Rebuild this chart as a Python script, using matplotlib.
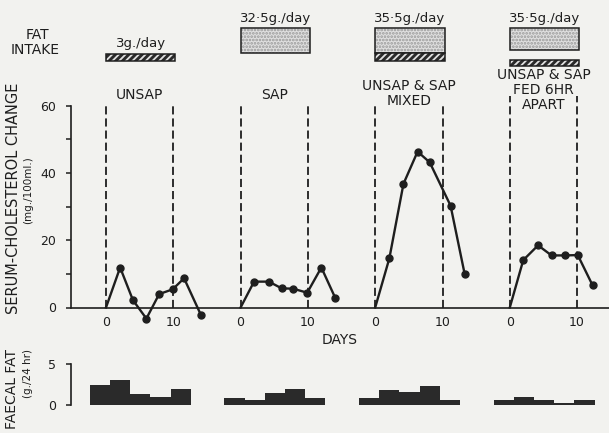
import matplotlib
matplotlib.use("Agg")
import matplotlib.pyplot as plt
from matplotlib.patches import Rectangle

plt.rcParams['font.family'] = ['DejaVu Sans']
plt.rcParams['hatch.linewidth'] = 1.3

INK = '#1e1e1e'
BG = '#f2f2ef'

# ---------------- data ----------------
group_names = ['UNSAP', 'SAP', 'UNSAP & SAP\nMIXED', 'UNSAP & SAP\nFED 6HR\nAPART']
group_offsets = [0, 20, 40, 60]          # each group plotted on its own 0-14 day window
intake_labels = ['3g./day', '32·5g./day', '35·5g./day', '35·5g./day']
intake_days = 10.3

# serum cholesterol change (mg./100ml.)
g1_days = [0, 2.1, 4.0, 6.0, 7.9, 9.9, 11.6, 14.1]
g1_chol = [0, 11.9, 2.2, -3.3, 4.0, 5.4, 8.7, -2.2]
g2_days = [0, 2.0, 4.2, 6.1, 7.8, 9.9, 12.0, 14.1]
g2_chol = [0, 7.7, 7.7, 5.7, 5.6, 4.4, 11.9, 2.7]
g3_days = [0, 2.1, 4.2, 6.3, 8.1, 11.2, 13.3]
g3_chol = [0, 14.6, 36.8, 46.4, 43.2, 30.3, 9.9]
g4_days = [0, 2.0, 4.2, 6.2, 8.2, 10.1, 12.3]
g4_chol = [0, 14.1, 18.5, 15.5, 15.5, 15.6, 6.6]

# faecal fat (g./24 hr), 3-day collection periods
fat_centers = [-0.9, 2.1, 5.1, 8.1, 11.1]
fat_width = 3
g1_fat = [2.4, 3.0, 1.3, 0.9, 1.9]
g2_fat = [0.8, 0.5, 1.4, 1.9, 0.8]
g3_fat = [0.8, 1.8, 1.5, 2.3, 0.6]
g4_fat = [0.5, 0.9, 0.5, 0.2, 0.5]

chol_days = [g1_days, g2_days, g3_days, g4_days]
chol_vals = [g1_chol, g2_chol, g3_chol, g4_chol]
fat_vals = [g1_fat, g2_fat, g3_fat, g4_fat]

# ---------------- layout helpers ----------------
W, H = 609, 433
fig = plt.figure(figsize=(W / 100, H / 100), dpi=100)
fig.patch.set_facecolor(BG)

def px_axes(x0, ytop, x1, ybot):
    return fig.add_axes([x0 / W, 1 - ybot / H, (x1 - x0) / W, (ybot - ytop) / H])

PX_DAY = 6.73
DAY0 = 106.0
XL = ((71 - DAY0) / PX_DAY, (609 - DAY0) / PX_DAY)
Y0 = 307.5
PX_MG = 3.36

def py2mg(py):
    return (Y0 - py) / PX_MG

# ---------------- main chart ----------------
ylo, yhi = -6, 65
ax = px_axes(71, Y0 - yhi * PX_MG, 609, Y0 - ylo * PX_MG)
ax.set_xlim(*XL)
ax.set_ylim(ylo, yhi)
ax.patch.set_visible(False)
for s in ['top', 'right']:
    ax.spines[s].set_visible(False)
ax.spines['bottom'].set_position(('data', 0))
ax.spines['left'].set_bounds(0, 60)
for s in ['bottom', 'left']:
    ax.spines[s].set_linewidth(1.2)
    ax.spines[s].set_color(INK)

ax.set_yticks([0, 20, 40, 60])
ax.set_yticks([10, 30, 50], minor=True)
ax.tick_params(axis='y', which='both', direction='out', length=3.5, width=1.1,
               colors=INK, labelsize=9, pad=7)

xt, xtl = [], []
for off in group_offsets:
    xt += [off, off + 10]
    xtl += ['0', '10']
ax.set_xticks(xt)
ax.set_xticklabels(xtl)
ax.tick_params(axis='x', length=0, labelsize=9, pad=6, colors=INK)

dash_tops = [60, 60, 60, 63]
for off, top in zip(group_offsets, dash_tops):
    ax.vlines([off, off + 10], 0, top, colors=INK, lw=1.3, linestyles=[(0, (4.5, 2.2))])

for off, d, v in zip(group_offsets, chol_days, chol_vals):
    ax.plot([off + x for x in d], v, color=INK, lw=1.7, marker='o', ms=5,
            mfc=INK, mec=INK, markevery=list(range(1, len(d))),
            clip_on=False, zorder=3)

label_centers_py = [95, 95, 93.3, 90]
for off, name, py in zip(group_offsets, group_names, label_centers_py):
    ax.text(off + 5, py2mg(py), name, ha='center', va='center', fontsize=10,
            color=INK, linespacing=1.05)

ax.set_xlabel('DAYS', fontsize=10, color=INK)
ax.xaxis.set_label_coords(0.5, (Y0 - ylo * PX_MG - 340) / ((yhi - ylo) * PX_MG))
ax.xaxis.label.set_va('center')

fig.text(14 / W, 1 - 198 / H, 'SERUM-CHOLESTEROL CHANGE', rotation=90, ha='center',
         va='center', fontsize=10.5, color=INK)
fig.text(28 / W, 1 - 190 / H, '(mg./100ml.)', rotation=90, ha='center',
         va='center', fontsize=7.5, color=INK)

# ---------------- faecal fat ----------------
F0 = 404.5
PX_G = 8.13
fax = px_axes(71, F0 - 5.5 * PX_G, 609, F0)
fax.set_xlim(*XL)
fax.set_ylim(0, 5.5)
fax.patch.set_visible(False)
for s in ['top', 'right', 'bottom']:
    fax.spines[s].set_visible(False)
fax.spines['left'].set_bounds(0, 5)
fax.spines['left'].set_linewidth(1.2)
fax.spines['left'].set_color(INK)
fax.set_xticks([])
fax.set_yticks([0, 5])
fax.tick_params(axis='y', direction='out', length=3.5, width=1.1, colors=INK,
                labelsize=9, pad=7)
for off, vals in zip(group_offsets, fat_vals):
    fax.bar([off + c for c in fat_centers], vals, width=fat_width, color='#2a2a2a',
            edgecolor='none')

fig.text(12 / W, 1 - 389 / H, 'FAECAL FAT', rotation=90, ha='center', va='center',
         fontsize=10, color=INK)
fig.text(28 / W, 1 - 373 / H, '(g./24 hr)', rotation=90, ha='center', va='center',
         fontsize=7.5, color=INK)

# ---------------- fat intake ----------------
tax = px_axes(71, 0, 609, 75)
tax.set_xlim(*XL)
tax.set_ylim(75, 0)
tax.axis('off')

def stipple(x, y0, y1):
    tax.add_patch(Rectangle((x, y0), intake_days, y1 - y0, facecolor='#e0e0e0',
                            edgecolor='#999999', hatch='.....', lw=0))
    tax.add_patch(Rectangle((x, y0), intake_days, y1 - y0, facecolor='none',
                            edgecolor=INK, lw=1.1))

def hatched(x, y0, y1):
    tax.add_patch(Rectangle((x, y0), intake_days, y1 - y0, facecolor='#2a2a2a',
                            edgecolor='#e0e0e0', hatch='/////', lw=0))
    tax.add_patch(Rectangle((x, y0), intake_days, y1 - y0, facecolor='none',
                            edgecolor=INK, lw=1.1))

o1, o2, o3, o4 = group_offsets
hatched(o1, 54, 60.7)
stipple(o2, 28.3, 53.3)
stipple(o3, 28.3, 53.3)
hatched(o3, 53.3, 60.7)
stipple(o4, 28.3, 50)
hatched(o4, 60, 66)

label_py = [43, 18.3, 18.3, 18.3]
for off, lab, py in zip(group_offsets, intake_labels, label_py):
    tax.text(off + intake_days / 2, py, lab, ha='center', va='center', fontsize=9.5,
             color=INK)

fig.text(37 / W, 1 - 35 / H, 'FAT', ha='center', va='center', fontsize=10, color=INK)
fig.text(35 / W, 1 - 50 / H, 'INTAKE', ha='center', va='center', fontsize=10, color=INK)

fig.savefig('out.png', dpi=100, facecolor=BG)
